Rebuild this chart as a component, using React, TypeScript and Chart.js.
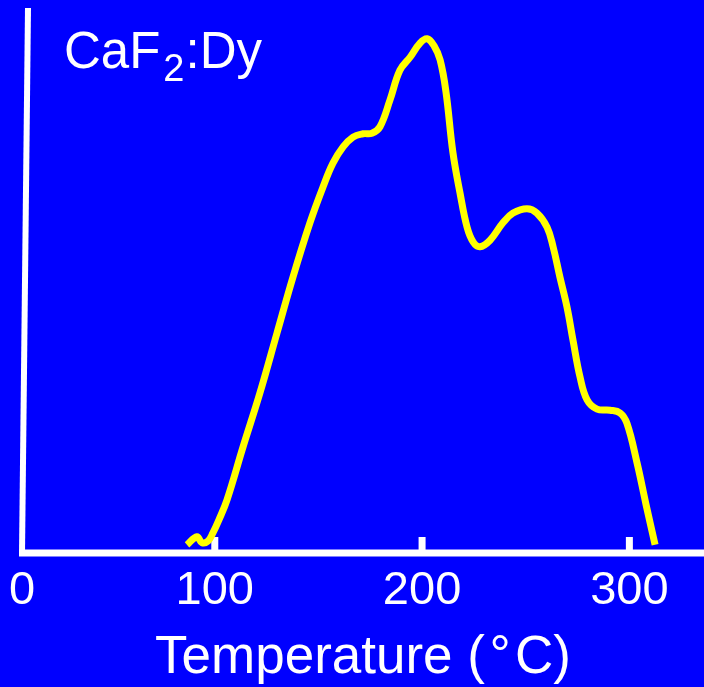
import React, { useEffect, useRef } from 'react';
import { Chart, registerables } from 'chart.js';

Chart.register(...registerables);

// Glow curve: temperature (°C) vs TL intensity (arbitrary units)
const temperatures = [
  86.6, 91.4, 93.8, 96.7, 99.1, 102.0, 105.9, 113.6, 121.8, 130.0, 137.7, 145.9,
  152.2, 157.0, 161.9, 166.7, 171.5, 175.8, 179.7, 184.5, 189.3, 194.2, 199.0,
  202.4, 205.8, 208.7, 211.5, 214.9, 218.3, 221.7, 224.6, 227.9, 232.8, 239.0,
  243.9, 250.6, 255.4, 260.3, 263.2, 266.5, 269.9, 272.8, 276.2, 279.6, 284.4,
  290.7, 295.5, 298.8, 303.7, 308.0, 312.4,
];
const intensities = [
  1.5, 3.0, 1.9, 2.2, 3.7, 6.1, 9.8, 19.5, 29.5, 40.5, 50.8, 60.8,
  67.4, 71.8, 74.8, 76.6, 77.2, 77.3, 78.5, 83.4, 88.9, 91.3, 93.9,
  94.7, 93.4, 90.8, 85.0, 73.7, 66.3, 60.0, 57.3, 56.4, 57.6, 60.8,
  62.6, 63.4, 62.6, 60.0, 56.4, 50.8, 45.3, 39.2, 32.4, 28.2, 26.5,
  26.3, 25.8, 23.9, 16.6, 9.0, 1.5,
];

const tickValues = [100, 200, 300];
const tickLabels = ['0', '100', '200', '300'];
const xMin = 7;
const xMax = 336;
const yMin = 0;
const yMax = 100;
const sampleName = ['CaF', '2', ':Dy'];
const axisTitle = 'Temperature (\u200A°\u200AC)';

const FONT = '"Liberation Sans", Arial, Helvetica, sans-serif';
const BLUE = '#0000FF';
const YELLOW = '#FFFF00';
const WHITE = '#FFFFFF';

const axesPlugin = {
  id: 'handAxes',
  beforeDatasetsDraw(chart: any) {
    const { ctx, chartArea, scales } = chart;
    const { left, right, top, bottom } = chartArea;
    ctx.save();
    ctx.strokeStyle = WHITE;
    ctx.lineCap = 'butt';
    // x axis line
    ctx.lineWidth = 7;
    ctx.beginPath();
    ctx.moveTo(left - 3, bottom);
    ctx.lineTo(right, bottom);
    ctx.stroke();
    // y axis line (slightly slanted, as drawn)
    ctx.lineWidth = 6;
    ctx.beginPath();
    ctx.moveTo(left, bottom);
    ctx.lineTo(left + 6, top - 2);
    ctx.stroke();
    // inward tick marks
    ctx.lineWidth = 7;
    tickValues.forEach((v) => {
      const px = scales.x.getPixelForValue(v);
      ctx.beginPath();
      ctx.moveTo(px, bottom);
      ctx.lineTo(px, bottom - 16);
      ctx.stroke();
    });
    ctx.restore();
  },
  afterDraw(chart: any) {
    const { ctx, chartArea } = chart;
    ctx.save();
    ctx.fillStyle = WHITE;
    ctx.textBaseline = 'alphabetic';
    ctx.textAlign = 'left';
    let x0 = chartArea.left + 42;
    const base = chartArea.top + 58;
    ctx.font = `51px ${FONT}`;
    ctx.fillText(sampleName[0], x0, base);
    x0 += ctx.measureText(sampleName[0]).width + 3;
    ctx.font = `38px ${FONT}`;
    ctx.fillText(sampleName[1], x0, base + 13);
    x0 += ctx.measureText(sampleName[1]).width + 1;
    ctx.font = `51px ${FONT}`;
    ctx.fillText(sampleName[2], x0, base);
    ctx.restore();
  },
};

export default function App() {
  const canvasRef = useRef<HTMLCanvasElement | null>(null);

  useEffect(() => {
    const canvas = canvasRef.current;
    if (!canvas) return;
    const chart = new Chart(canvas, {
      type: 'line',
      data: {
        datasets: [
          {
            data: temperatures.map((t, i) => ({ x: t, y: intensities[i] })),
            borderColor: YELLOW,
            borderWidth: 7,
            pointRadius: 0,
            fill: false,
            tension: 0.4,
            clip: false as any,
          },
        ],
      },
      options: {
        responsive: false,
        animation: false,
        layout: { padding: { left: 22, top: 10, right: 0, bottom: 0 } },
        plugins: {
          legend: { display: false },
          tooltip: { enabled: false },
          title: { display: false },
        },
        scales: {
          x: {
            type: 'linear',
            min: xMin,
            max: xMax,
            afterBuildTicks: (scale: any) => {
              scale.ticks = [{ value: scale.min }, ...tickValues.map((v) => ({ value: v }))];
            },
            afterFit: (scale: any) => {
              scale.height = 134;
              scale.paddingLeft = 0;
              scale.paddingRight = 0;
            },
            grid: { display: false, drawTicks: false },
            border: { display: false },
            ticks: {
              autoSkip: false,
              maxRotation: 0,
              padding: 15,
              color: WHITE,
              font: { family: FONT, size: 47, lineHeight: 1 },
              callback: (_v: any, i: number) => tickLabels[i],
            },
            title: {
              display: true,
              text: axisTitle,
              color: WHITE,
              font: { family: FONT, size: 53, lineHeight: 1 },
              padding: { top: 0, bottom: 2 },
            },
          },
          y: {
            display: false,
            min: yMin,
            max: yMax,
          },
        },
      },
      plugins: [axesPlugin],
    });
    return () => chart.destroy();
  }, []);

  return (
    <div
      style={{
        position: 'absolute',
        left: 0,
        top: 0,
        width: 704,
        height: 687,
        background: BLUE,
        overflow: 'hidden',
      }}
    >
      <canvas ref={canvasRef} width={704} height={687} style={{ display: 'block', background: BLUE }} />
    </div>
  );
}
